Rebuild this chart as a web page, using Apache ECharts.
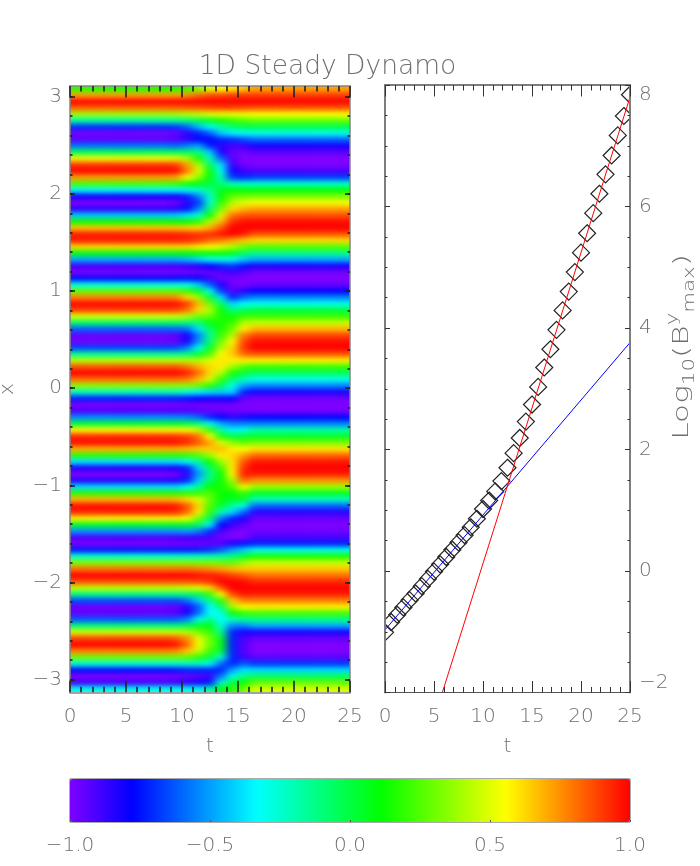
<!DOCTYPE html>
<html><head><meta charset="utf-8">
<style>html,body{margin:0;padding:0;background:#fff}#c{width:700px;height:866px}</style>
<script src="https://cdn.jsdelivr.net/npm/echarts@6/dist/echarts.min.js"></script>
</head><body>
<svg width="0" height="0" style="position:absolute"><filter id="soft" x="-5%" y="-5%" width="110%" height="110%" color-interpolation-filters="sRGB"><feGaussianBlur stdDeviation="4.2 2.5"/></filter></svg>
<div id="c"></div>
<script>
// Field B(x,t): vertical profiles, top row (x=+3.1) to bottom row (x=-3.1).
const prof_t0_8 = [
.18,.72,1,.83,.39,-.18,-.7,-.98,-.93,-.58,-.03,.53,.91,.99,.74,.24,-.34,-.8,-1,-.86,-.44,.13,.66,.96,
.95,.62,.08,-.48,-.89,-.99,-.77,-.29,.28,.77,.99,.89,.49,-.07,-.61,-.95,-.97,-.66,-.14,.43,.86,1,.81,.35,
-.23,-.73,-.99,-.91,-.54,.02,.57,.93,.98,.7,.19,-.38,-.83,-1,-.84,-.4,.18,.69,.98,.94,.58,.04,-.52,-.91,
-.99,-.74,-.25,.33,.8,1,.87,.45,-.12,-.65,-.96,-.95,-.63,-.09,.47,.88,1,.78,.3,-.27,-.76,-.99,-.89,-.3];
const prof_t9 = [
.18,.72,1,.83,.4,-.15,-.68,-.95,-.92,-.6,-.05,.5,.9,.98,.72,.22,-.34,-.8,-.98,-.85,-.43,.12,.66,.95,
.95,.62,.08,-.48,-.89,-.99,-.77,-.29,.28,.76,.98,.88,.48,-.07,-.6,-.93,-.95,-.65,-.14,.43,.86,1,.81,.35,
-.23,-.73,-.99,-.91,-.54,.02,.57,.92,.97,.7,.19,-.38,-.82,-.98,-.83,-.4,.18,.68,.96,.93,.58,.04,-.52,-.9,
-.98,-.74,-.25,.33,.8,1,.87,.45,-.12,-.65,-.95,-.93,-.62,-.09,.46,.85,.97,.76,.3,-.26,-.75,-.98,-.88,-.3];
const prof_t10 = [
.22,.75,1,.84,.43,-.1,-.6,-.85,-.85,-.55,-.05,.4,.72,.78,.55,.15,-.32,-.72,-.85,-.75,-.38,.12,.64,.94,
.94,.62,.1,-.45,-.87,-.98,-.76,-.3,.2,.62,.9,.8,.42,-.1,-.58,-.8,-.82,-.55,-.1,.42,.8,.95,.78,.35,
-.3,-.75,-.98,-.91,-.55,0,.55,.9,.93,.68,.2,-.32,-.72,-.85,-.72,-.33,.18,.62,.85,.82,.55,.05,-.5,-.88,
-.98,-.74,-.24,.33,.8,1,.87,.47,-.08,-.58,-.85,-.82,-.55,-.05,.42,.75,.82,.66,.28,-.25,-.72,-.95,-.85,-.3];
const prof_t11 = [
.35,.82,1,.85,.45,-.03,-.45,-.72,-.78,-.5,-.12,.15,.4,.5,.35,.08,-.25,-.55,-.68,-.55,-.25,.18,.62,.92,
.9,.58,.12,-.4,-.84,-.97,-.78,-.42,.03,.38,.68,.62,.3,-.08,-.38,-.55,-.52,-.3,.03,.42,.7,.82,.68,.3,
-.35,-.78,-.98,-.93,-.6,-.1,.45,.8,.85,.65,.25,-.15,-.42,-.52,-.42,-.15,.2,.5,.62,.58,.3,-.05,-.55,-.88,
-.97,-.73,-.23,.32,.78,.98,.88,.5,-.02,-.42,-.62,-.58,-.3,.05,.32,.5,.55,.45,.18,-.25,-.72,-.92,-.82,-.3];
const prof_t12 = [
.5,.87,1,.87,.5,.05,-.32,-.62,-.78,-.72,-.42,-.22,-.05,.1,.1,0,-.12,-.25,-.25,-.1,.12,.42,.7,.93,
.82,.55,.12,-.32,-.78,-.95,-.88,-.62,-.3,.02,.3,.42,.28,.08,-.05,-.15,-.08,.05,.25,.5,.62,.62,.48,.18,
-.4,-.8,-.98,-.95,-.72,-.3,.2,.55,.72,.65,.38,.12,-.05,-.15,-.05,.1,.25,.28,.25,.18,-.05,-.35,-.7,-.9,
-.95,-.7,-.2,.32,.76,.96,.92,.62,.2,-.12,-.33,-.33,-.12,.08,.2,.3,.3,.22,0,-.32,-.72,-.88,-.75,-.2];
const prof_t13 = [
.55,.88,1,.88,.52,.15,-.18,-.42,-.72,-.85,-.82,-.62,-.38,-.3,-.22,-.08,.05,.12,.18,.32,.5,.68,.85,.97,
.78,.5,.12,-.3,-.72,-.92,-.97,-.82,-.68,-.38,-.05,.12,.15,.15,.15,.2,.3,.42,.55,.6,.58,.42,.2,-.05,
-.42,-.8,-.98,-.95,-.78,-.48,-.18,.15,.5,.68,.58,.38,.22,.12,.12,.14,.12,.1,.03,-.22,-.55,-.78,-.9,-.97,
-.92,-.62,-.18,.3,.72,.94,1,.85,.55,.18,-.08,-.3,-.34,-.25,-.12,.05,.08,.02,-.25,-.6,-.72,-.58,-.25,.08];
const prof_t14 = [
.6,.9,1,.88,.52,.2,-.08,-.35,-.7,-.9,-.95,-.92,-.88,-.8,-.68,-.22,.12,.28,.42,.62,.8,.92,1,1,
.72,.42,.08,-.32,-.68,-.88,-.97,-.98,-.92,-.72,-.4,-.12,.12,.2,.3,.42,.55,.62,.65,.58,.38,.15,-.08,-.3,
-.4,-.78,-.98,-.97,-.85,-.55,-.35,0,.35,.58,.62,.6,.58,.55,.4,.25,.12,.05,-.18,-.4,-.72,-.88,-.97,-1,
-.82,-.5,-.12,.28,.68,.88,1,1,.88,.65,.38,.12,-.22,-.55,-.72,-.72,-.72,-.72,-.72,-.72,-.5,-.28,-.02,.18];
const prof_t15 = [
.65,.9,1,.87,.53,.25,-.02,-.32,-.65,-.88,-.97,-1,-.98,-.88,-.72,-.25,.1,.3,.5,.68,.85,.97,1,.95,
.66,.3,-.05,-.42,-.75,-.92,-.99,-1,-.85,-.6,-.32,-.05,.2,.42,.58,.78,.88,.9,.82,.58,.25,.02,-.22,-.5,
-.72,-.95,-1,-.97,-.82,-.55,-.3,.03,.28,.55,.72,.85,.92,.95,.82,.55,.2,.05,-.3,-.6,-.82,-.95,-1,-1,
-.75,-.42,.02,.38,.65,.85,.98,1,.96,.78,.55,.2,-.15,-.55,-.82,-.9,-.92,-.92,-.88,-.62,-.38,-.12,.12,.3];
const prof_t16_25 = [
.72,.9,1,.85,.55,.28,-.02,-.3,-.6,-.82,-.93,-1,-1,-.9,-.68,-.25,.1,.32,.54,.72,.86,.98,1,.85,
.62,.25,-.12,-.48,-.82,-.97,-1,-.96,-.78,-.55,-.3,0,.2,.45,.68,.88,.98,1,.85,.58,.2,-.05,-.3,-.55,
-.82,-.97,-1,-.98,-.78,-.55,-.18,.05,.32,.6,.82,.96,1,.95,.75,.38,.05,-.22,-.6,-.85,-.95,-1,-.97,-.9,
-.72,-.3,.15,.45,.65,.8,.93,1,.95,.78,.58,.22,-.12,-.48,-.82,-.95,-1,-1,-.93,-.68,-.4,-.05,.28,.48];
// One profile per unit of t (t = 0.5 ... 24.5)
const fieldColumns = [prof_t0_8,prof_t0_8,prof_t0_8,prof_t0_8,prof_t0_8,prof_t0_8,prof_t0_8,prof_t0_8,prof_t0_8,
  prof_t9,prof_t10,prof_t11,prof_t12,prof_t13,prof_t14,prof_t15,
  prof_t16_25,prof_t16_25,prof_t16_25,prof_t16_25,prof_t16_25,prof_t16_25,prof_t16_25,prof_t16_25,prof_t16_25];

// log10(B^y_max) samples
const sampleT = [0,.625,1.25,1.875,2.5,3.125,3.75,4.375,5,5.625,6.25,6.875,7.5,8.125,8.75,9.375,10,10.625,11.25,11.875,12.5,13.125,13.75,14.375,15,15.625,16.25,16.875,17.5,18.125,18.75,19.375,20,20.625,21.25,21.875,22.5,23.125,23.75,24.375,25];
const sampleLogB = [-1.01,-.84,-.72,-.6,-.48,-.37,-.25,-.13,-.01,.11,.23,.35,.47,.59,.72,.86,1.02,1.16,1.31,1.48,1.7,1.94,2.19,2.46,2.74,3.03,3.35,3.65,3.97,4.29,4.6,4.92,5.24,5.56,5.89,6.21,6.53,6.84,7.17,7.49,7.84];
const blueFit = [[0,-.97],[25,3.76]];
const redFit = [[5.85,-2],[25,7.8]];

const xMajorTicks = [-3,-2,-1,0,1,2,3];
const xMinorTicks = [-3,-2.8,-2.6,-2.4,-2.2,-2,-1.8,-1.6,-1.4,-1.2,-1,-.8,-.6,-.4,-.2,0,.2,.4,.6,.8,1,1.2,1.4,1.6,1.8,2,2.2,2.4,2.6,2.8,3];
const colorStops = ['#8000ff','#0000ff','#0080ff','#00ffff','#00ff80','#00ff00','#80ff00','#ffff00','#ff8000','#ff0000'];
const titleText = '1D Steady Dynamo';

// ---- build
const GREY = '#6f6f6f', TICK = '#333', TICK_IMG = '#222', TICK_IMG_W = 1.6;
const FONT = {color:GREY, fontFamily:'"DejaVu Sans"', fontWeight:200, fontSize:20};
const nRows = fieldColumns[0].length, nCols = fieldColumns.length;
const heat = [];
for (let c=0;c<nCols+2;c++) for (let r=0;r<nRows+2;r++){
  const col = fieldColumns[Math.min(nCols-1,Math.max(0,c-1))];
  heat.push([c,r,col[Math.min(nRows-1,Math.max(0,r-1))]]);
}
const P = {l:70,t:86,w:280,h:606.3}, Q = {l:385,t:85,w:245,h:607.5};
const cw = P.w/nCols, ch = P.h/nRows;
const minus = v => String(v).replace('-','\u2212');

function xTick(gi,pos,labels,line,name,tickColor,tickWidth){
  const ts = {color:tickColor||TICK,width:tickWidth||1};
  return {type:'value',gridIndex:gi,position:pos,min:0,max:25,interval:5,z:20,zlevel:1,
    axisLine:{show:true,onZero:false,lineStyle:line},
    axisTick:{show:true,inside:true,length:11.5,lineStyle:ts},
    minorTick:{show:true,splitNumber:5,length:5.5,lineStyle:ts},
    splitLine:{show:false},minorSplitLine:{show:false},
    axisLabel:labels?{show:true,margin:14,...FONT,showMinLabel:true,showMaxLabel:true,hideOverlap:false}:{show:false},
    name:name||'',nameLocation:'middle',nameGap:44,nameMoveOverlap:false,nameTextStyle:{...FONT}};
}
function yTick(gi,pos,min,max,interval,split,labels,line,extra){
  return Object.assign({type:'value',gridIndex:gi,position:pos,min,max,interval,z:20,zlevel:1,
    axisLine:{show:true,onZero:false,lineStyle:line},
    axisTick:{show:true,inside:true,length:5,lineStyle:{color:TICK,width:1}},
    minorTick:{show:true,splitNumber:split,length:2.5,lineStyle:{color:TICK,width:1}},
    splitLine:{show:false},minorSplitLine:{show:false},
    axisLabel:labels?Object.assign({show:true,margin:8,...FONT,hideOverlap:false},labels):{show:false}},extra||{});
}
function xCoordAxis(pos,ticks,len,labels,line,extra){
  return Object.assign({type:'value',gridIndex:1,position:pos,min:-3.13,max:3.11,z:20,zlevel:1,
    axisLine:{show:!!line,onZero:false,lineStyle:line||{}},
    axisTick:{show:true,inside:true,length:len,customValues:ticks,lineStyle:{color:TICK_IMG,width:TICK_IMG_W}},
    splitLine:{show:false},
    axisLabel:labels?{show:true,margin:8,...FONT,hideOverlap:false,customValues:ticks,formatter:v=>minus(v)}:{show:false}},extra||{});
}
const thin = {color:'#858585',width:1.5}, thick = {color:'#7d7d7d',width:2}, base = {color:'#555',width:1};
const gridBase = {outerBoundsMode:'none',containLabel:false};

const option = {
  animation:false,
  title:{text:titleText,left:322.5,top:49,textAlign:'center',zlevel:1,
    textStyle:{color:GREY,fontFamily:'"DejaVu Sans"',fontWeight:200,fontSize:26.5}},
  grid:[
    {...gridBase,left:P.l-cw,top:P.t-ch,width:P.w+2*cw,height:P.h+2*ch},
    {...gridBase,left:P.l,top:P.t,width:P.w,height:P.h},
    {...gridBase,left:Q.l,top:Q.t,width:Q.w,height:Q.h},
    {...gridBase,left:70,top:779,width:560,height:43,show:true,borderColor:'#555',borderWidth:1,backgroundColor:'transparent',zlevel:1}
  ],
  xAxis:[
    {type:'category',gridIndex:0,show:false,data:heat.filter(d=>d[1]===0).map(d=>d[0])},
    xTick(1,'bottom',true,thin,'t',TICK_IMG,TICK_IMG_W),
    xTick(1,'top',false,thin,'',TICK_IMG,TICK_IMG_W),
    xTick(2,'bottom',true,base,'t'),
    xTick(2,'top',false,thick),
    {type:'value',gridIndex:3,position:'bottom',min:-1,max:1,interval:.5,zlevel:1,z:20,
      axisLine:{show:false},axisTick:{show:true,inside:true,length:2,lineStyle:{color:'#555'}},splitLine:{show:false},
      axisLabel:{show:true,margin:14,...FONT,hideOverlap:false,formatter:v=>minus(v.toFixed(1))}}
  ],
  yAxis:[
    {type:'category',gridIndex:0,show:false,inverse:true,data:heat.filter(d=>d[0]===0).map(d=>d[1])},
    xCoordAxis('left',xMajorTicks,5,true,thin,
      {name:'x',nameLocation:'middle',nameGap:52,nameMoveOverlap:false,nameRotate:90,nameTextStyle:{...FONT}}),
    xCoordAxis('right',xMajorTicks,5,false,thin),
    yTick(2,'left',-2,8,2,4,null,thick),
    yTick(2,'right',-2,8,2,4,{formatter:v=>minus(v),margin:9,verticalAlignMaxLabel:'top',verticalAlignMinLabel:'bottom',showMinLabel:true,showMaxLabel:true},thick),
    {type:'value',gridIndex:3,min:0,max:1,show:false},
    xCoordAxis('left',xMinorTicks,2.5,false,null),
    xCoordAxis('right',xMinorTicks,2.5,false,null)
  ],
  visualMap:{type:'continuous',seriesIndex:0,min:-1,max:1,orient:'horizontal',left:70,top:779,padding:0,
    itemWidth:43,itemHeight:560,calculable:false,hoverLink:false,text:null,showLabel:false,zlevel:1,z:1,
    inRange:{color:colorStops}},
  graphic:[{type:'text',zlevel:1,z:50,x:682,y:347,rotation:Math.PI/2,scaleX:1.42,silent:true,
    style:{text:'Log{sub|10}(B{sup|y}{sub|max})',fill:GREY,font:'200 22px "DejaVu Sans"',align:'center',verticalAlign:'middle',
      rich:{sub:{fill:GREY,font:'200 15px "DejaVu Sans"',verticalAlign:'bottom',lineHeight:32},
            sup:{fill:GREY,font:'200 15px "DejaVu Sans"',verticalAlign:'top',lineHeight:32}}}}],
  series:[
    {type:'heatmap',xAxisIndex:0,yAxisIndex:0,data:heat,progressive:0,emphasis:{disabled:true},zlevel:0},
    {type:'custom',xAxisIndex:3,yAxisIndex:3,zlevel:1,z:5,silent:true,clip:true,
      encode:{x:0,y:1},data:sampleT.map((t,i)=>[t,sampleLogB[i]]),
      renderItem:(p,api)=>{
        const c = api.coord([api.value(0),api.value(1)]), s = 8.5, cs = p.coordSys;
        return {type:'polygon',
          shape:{points:[[c[0],c[1]-s],[c[0]+s,c[1]],[c[0],c[1]+s],[c[0]-s,c[1]]]},
          style:{fill:'none',stroke:'#222',lineWidth:1.2},
          clipPath:{type:'rect',shape:{x:cs.x,y:cs.y,width:cs.width,height:cs.height}}};
      }},
    {type:'line',xAxisIndex:3,yAxisIndex:3,zlevel:1,z:6,data:blueFit,showSymbol:false,symbol:'none',silent:true,lineStyle:{color:'#0000ff',width:1}},
    {type:'line',xAxisIndex:3,yAxisIndex:3,zlevel:1,z:7,data:redFit,showSymbol:false,symbol:'none',silent:true,lineStyle:{color:'#ff0000',width:1}}
  ]
};
const chart = echarts.init(document.getElementById('c'),null,{renderer:'canvas'});
chart.setOption(option);
const layers = document.querySelectorAll('#c canvas');
layers.forEach((cv,i)=>{ cv.style.zIndex = i===0 ? '0' : '5'; });
if (layers[0]){ layers[0].style.filter='url(#soft)'; layers[0].style.clipPath='inset(86px 350px 174px 70px)'; }
</script></body></html>
